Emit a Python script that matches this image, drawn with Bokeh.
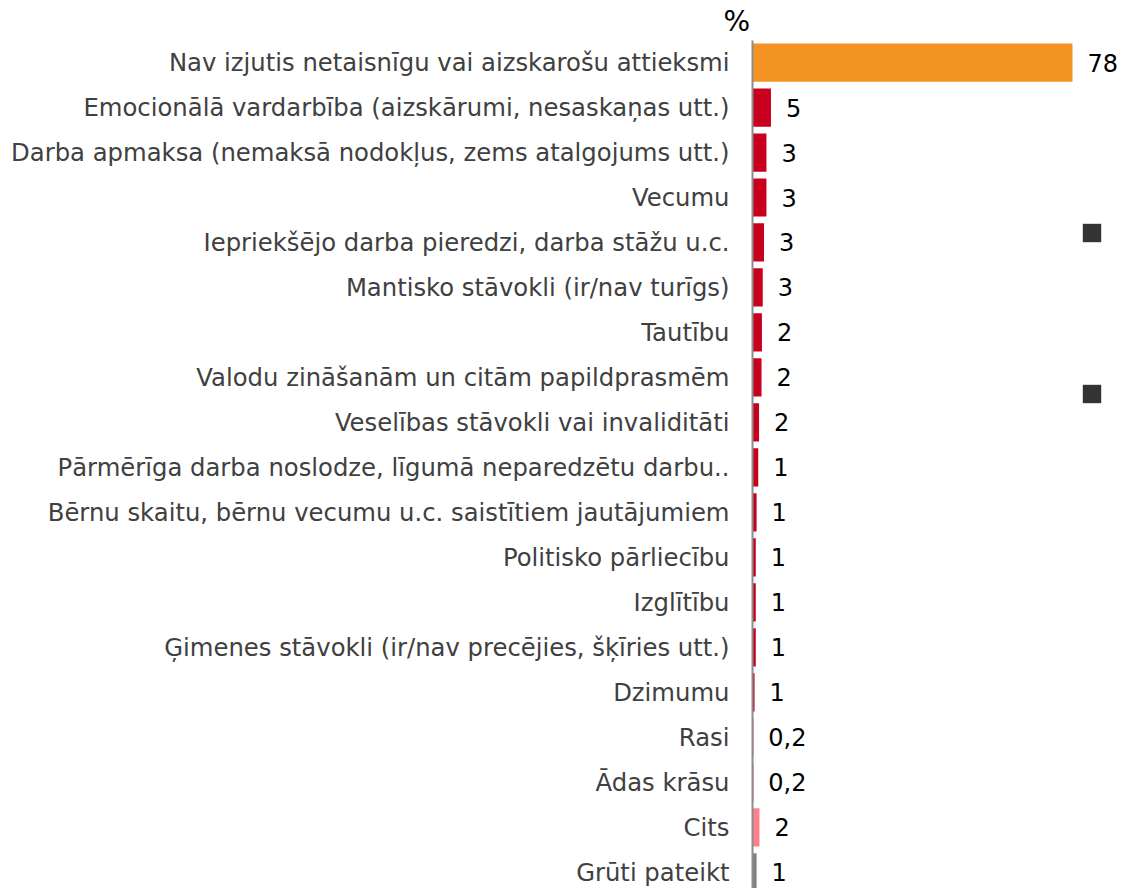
from bokeh.plotting import figure
from bokeh.models import (Range1d, FixedTicker, ColumnDataSource, LabelSet,
                          Legend, LegendItem)
from bokeh.core.properties import value
from bokeh.embed import file_html
from bokeh.resources import INLINE

categories = [
    "Nav izjutis netaisnīgu vai aizskarošu attieksmi",
    "Emocionālā vardarbība (aizskārumi, nesaskaņas utt.)",
    "Darba apmaksa (nemaksā nodokļus, zems atalgojums utt.)",
    "Vecumu",
    "Iepriekšējo darba pieredzi, darba stāžu u.c.",
    "Mantisko stāvokli (ir/nav turīgs)",
    "Tautību",
    "Valodu zināšanām un citām papildprasmēm",
    "Veselības stāvokli vai invaliditāti",
    "Pārmērīga darba noslodze, līgumā neparedzētu darbu..",
    "Bērnu skaitu, bērnu vecumu u.c. saistītiem jautājumiem",
    "Politisko pārliecību",
    "Izglītību",
    "Ģimenes stāvokli (ir/nav precējies, šķīries utt.)",
    "Dzimumu",
    "Rasi",
    "Ādas krāsu",
    "Cits",
    "Grūti pateikt",
]
values = [78, 4.5, 3.4, 3.4, 2.8, 2.5, 2.3, 2.2, 1.6, 1.4, 1.0, 0.8, 0.8, 0.8, 0.5,
          0.2, 0.2, 1.7, 1.0]
value_labels = ["78", "5", "3", "3", "3", "3", "2", "2", "2", "1", "1", "1", "1",
                "1", "1", "0,2", "0,2", "2", "1"]
groups = ["none"] + ["reason"] * 16 + ["other", "hard"]
group_colors = {"none": "#F39321", "reason": "#C8001E", "other": "#FF808B",
                "hard": "#808080"}

FONT = "DejaVu Sans"
idx = list(range(len(categories)))

src = ColumnDataSource(dict(
    y=idx,
    v=values,
    lab=value_labels,
    color=[group_colors[g] for g in groups],
))

p = figure(width=1122, height=888, output_backend="svg", toolbar_location=None,
           x_range=Range1d(0, 90.19), y_range=Range1d(18.356, -0.489),
           min_border_left=752, min_border_right=0, min_border_top=40,
           min_border_bottom=0, title="%")
p.outline_line_color = None
p.xgrid.visible = False
p.ygrid.visible = False
p.xaxis.visible = False
p.background_fill_color = "white"
p.border_fill_color = "white"

p.title.align = "left"
p.title.offset = -29
p.title.standoff = 5
p.title.text_font = FONT
p.title.text_font_size = "28px"
p.title.text_font_style = "normal"
p.title.text_color = "black"

p.hbar(y="y", right="v", left=0, height=0.85, fill_color="color",
       line_color=None, source=src)

labels = LabelSet(x="v", y="y", text="lab", source=src, x_offset=15,
                  text_align="left", text_baseline="middle",
                  text_font=value(FONT), text_font_size="24px", text_color="black")
p.add_layout(labels)

yax = p.yaxis[0]
yax.ticker = FixedTicker(ticks=idx)
yax.major_label_overrides = {i: c for i, c in zip(idx, categories)}
yax.major_tick_line_color = None
yax.minor_tick_line_color = None
yax.major_tick_out = 0
yax.major_tick_in = 0
yax.major_label_standoff = 23
yax.axis_line_color = "#8C8C8C"
yax.axis_line_width = 2
yax.major_label_text_font = FONT
yax.major_label_text_font_size = "24.3px"
yax.major_label_text_color = "#404040"

# legend markers (the original shows two dark squares without text)
dummy_src = ColumnDataSource(dict(y=idx[:1], z=[0]))
dummy = p.hbar(y="y", right="z", left="z", height=0.5, fill_color="#333333",
               line_color=None, source=dummy_src)
legend = Legend(items=[LegendItem(label=" ", renderers=[dummy]),
                       LegendItem(label=" ", renderers=[dummy])],
                location=(328, 483), padding=0, margin=0, spacing=138,
                glyph_width=23, glyph_height=23, label_height=23, label_width=0,
                label_standoff=0, label_text_font_size="1px",
                border_line_color=None, background_fill_alpha=0)
p.add_layout(legend)

open("out.html", "w").write(file_html(p, INLINE))
